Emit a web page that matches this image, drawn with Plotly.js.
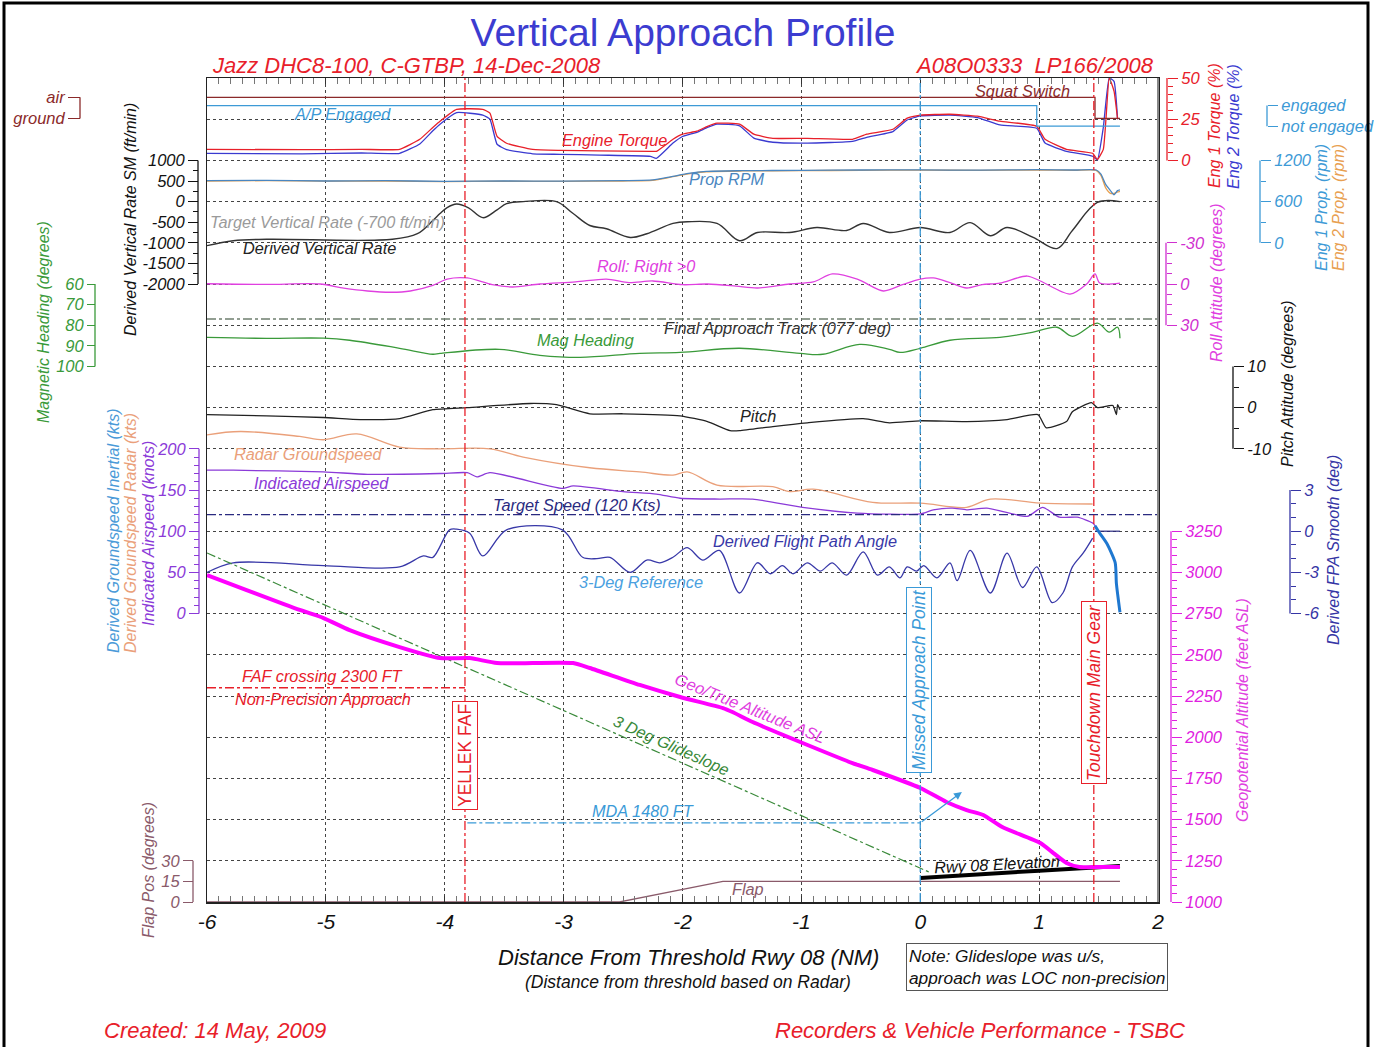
<!DOCTYPE html>
<html><head><meta charset="utf-8">
<script src="https://cdn.plot.ly/plotly-3.0.1.min.js"></script>
<style>html,body{margin:0;padding:0;background:#fff}#chart{width:1374px;height:1047px}</style>
</head><body><div id="chart"></div>
<script>
// ---------------- DATA ----------------
const torqueX = [-6.0,-5.2,-4.7,-4.38,-4.21,-4.10,-4.04,-3.90,-3.68,-3.62,-3.56,-3.48,-3.26,-3.03,-2.7,-2.27,-2.22,-2.08,-2.00,-1.88,-1.79,-1.71,-1.52,-1.40,-1.24,-0.95,-0.57,-0.45,-0.23,-0.11,0.0,0.25,0.48,0.67,0.98,1.05,1.23,1.45,1.49,1.54,1.59,1.63,1.66];
const eng1Torque = [6.7,6.5,6.7,6.7,12.8,20,23.8,31,31,28.7,14.6,10.4,6.7,6.1,5.8,5.5,5.5,12.8,15.9,17.7,20.7,22.6,22,15.9,13.4,13.4,12.8,15.9,18.9,25.6,27.5,28,26.8,23.8,20.7,12.8,6.7,4.3,0.6,6.7,50,42,25];
const eng2Torque = [4.3,4.0,4.5,4.3,10,18,22,29,27.5,25,9.8,6.5,4.0,3.7,3.2,2.5,1.2,10.5,14.5,17,20,22,21,13.5,11,10.5,11.5,14,17.5,24.5,27,27.5,26,21.5,19.5,10.5,5.5,2.5,0.2,20,50,48,25];

const squatX = [-6.0,1.47,1.47,1.68];
const squatVal = [1,1,0,0];           // 1 = air, 0 = ground
const apX = [-6.0,0.98,0.98,1.68];
const apVal = [1,1,0,0];              // 1 = engaged, 0 = not engaged

const rpmX = [-6.0,-5.5,-5.0,-4.5,-4.0,-3.5,-3.0,-2.5,-2.25,-2.1,-1.95,-1.8,-1.5,-1.0,-0.5,0.0,0.5,1.0,1.3,1.48,1.52,1.56,1.60,1.63,1.66,1.68];
const eng1Rpm = [905,910,900,905,895,900,898,905,915,960,1010,1040,1050,1055,1060,1062,1058,1065,1060,1060,1000,850,760,700,760,770];
const eng2Rpm = [900,905,898,900,892,896,895,900,910,955,1005,1035,1046,1050,1056,1058,1055,1060,1056,1055,980,800,720,720,740,750];

const vrX = [-6.0,-5.78,-5.5,-4.44,-4.23,-4.10,-4.04,-3.98,-3.90,-3.80,-3.68,-3.56,-3.48,-3.34,-3.06,-2.92,-2.78,-2.64,-2.44,-2.30,-2.08,-1.96,-1.71,-1.52,-1.37,-1.10,-0.87,-0.62,-0.48,-0.26,0.0,0.25,0.42,0.59,0.73,0.95,1.15,1.28,1.49,1.68];
const vertRate = [-1070,-950,-915,-915,-780,-460,-290,-145,-60,-150,-390,-200,-50,0,0,-290,-580,-660,-870,-780,-530,-490,-530,-950,-750,-750,-630,-700,-530,-750,-630,-750,-510,-830,-630,-870,-1140,-700,-20,0];

const rollX = [-6.0,-5.5,-5.05,-4.85,-4.65,-4.45,-4.29,-4.1,-3.98,-3.81,-3.6,-3.43,-3.20,-2.9,-2.64,-2.45,-2.25,-2.0,-1.79,-1.55,-1.37,-1.10,-0.90,-0.74,-0.53,-0.31,-0.15,0.0,0.11,0.25,0.39,0.52,0.67,0.90,1.01,1.26,1.40,1.47,1.51,1.68];
const roll = [-0.2,0.3,0,3,5.1,6,5.1,1,-3.6,-4.4,0.5,2.2,0,-1.5,-3.6,-1,-2.2,0.5,0,1.5,2.9,0,-1.5,-7.3,-3.6,5.1,0.5,-3.6,-4.4,-1,2.9,0.5,-0.7,-5.8,-2.2,7.3,0,-7.3,-0.7,-0.7];

const fatX = [-6, 2];
const fatHdg = [77, 77];
const hdgX = [-6.0,-5.5,-5.02,-4.80,-4.38,-4.10,-4.04,-3.54,-3.20,-2.86,-2.36,-2.02,-1.52,-1.01,-0.82,-0.51,-0.26,-0.17,0.0,0.25,0.67,0.95,1.15,1.28,1.49,1.59,1.66,1.68];
const heading = [85.9,86.4,86.3,87.3,91.2,94.1,93.7,91.7,94.6,95.6,93.7,93.2,91.2,93.7,94.1,89.3,91.7,93.2,91.2,87.3,85.9,83.4,81.0,85.4,79.0,83.4,81.0,86.3];

const pitchX = [-6.0,-5.5,-5.02,-4.71,-4.38,-4.10,-3.81,-3.28,-3.06,-2.78,-2.50,-2.02,-1.79,-1.60,-1.52,-1.24,-0.95,-0.48,-0.26,0.0,0.39,0.73,0.99,1.06,1.23,1.28,1.44,1.49,1.62,1.65,1.66,1.68];
const pitch = [-1.7,-2.0,-2.4,-2.9,-2.7,-0.5,0,1.0,0.7,-1.5,-1.5,-2.0,-3.4,-5.6,-5.6,-4.6,-3.7,-2.7,-3.7,-3.2,-3.4,-2.9,-1.7,-4.9,-3.4,-1.0,1.2,0,0.5,-1.7,0.7,-0.5];

const gsX = [-6.0,-5.72,-5.22,-5.02,-4.74,-4.38,-4.04,-3.62,-3.34,-2.78,-2.36,-2.08,-1.96,-1.71,-1.24,-1.10,-0.90,-0.40,0.0,0.39,0.59,1.01,1.45];
const radarGs = [217,221,215,211,218,202,200,200,190,177,172,168,172,156,154,148,151,135,134,129,139,134,133];
const iasX = [-6.0,-5.78,-5.02,-4.65,-4.04,-3.81,-3.73,-3.62,-3.01,-2.92,-2.50,-2.22,-2.02,-1.69,-1.41,-0.99,-0.53,0.0,0.11,0.27,0.39,0.56,0.90,1.03,1.17,1.32,1.45,1.48];
const ias = [174,174,172,169,170,171,166,171,152,155,148,145,140,139,139,129,122,121,126,128,126,128,118,129,117,117,110,105];
const tgtSpdX = [-6, 2];
const tgtSpd = [120, 120];

const fpaX = [-6.0,-5.78,-5.02,-4.38,-4.18,-4.10,-3.96,-3.90,-3.79,-3.68,-3.48,-3.01,-2.84,-2.72,-2.61,-2.44,-2.30,-2.19,-2.08,-1.96,-1.83,-1.69,-1.52,-1.37,-1.26,-1.16,-1.07,-0.95,-0.84,-0.74,-0.62,-0.48,-0.36,-0.26,-0.17,-0.11,-0.03,0.03,0.14,0.25,0.31,0.42,0.59,0.73,0.86,0.98,1.11,1.20,1.28,1.37,1.45];
const derivedFpa = [-3.0,-2.3,-2.5,-2.6,-1.8,-1.9,0.1,0.15,-0.15,-1.8,0.1,0.1,-1.9,-2.0,-1.9,-3.0,-2.1,-2.3,-1.9,-1.2,-2.1,-1.4,-4.5,-2.3,-3.1,-2.5,-3.1,-2.3,-2.9,-2.3,-3.2,-1.5,-3.2,-2.6,-3.4,-2.6,-2.9,-2.5,-3.4,-2.3,-3.6,-1.4,-4.5,-1.6,-4.1,-2.6,-5.2,-4.5,-2.6,-1.6,-0.5];
const fpaSmoothX = [1.47,1.51,1.57,1.64,1.65,1.68];
const fpaSmooth = [0.4,-0.15,-0.9,-2.3,-3.8,-5.9];
const fpaZeroX = [1.47, 1.68];
const fpaZero = [0, 0];

const altX = [-6.0,-5.22,-5.02,-4.80,-4.38,-4.04,-3.79,-3.56,-2.92,-2.78,-2.36,-2.02,-1.66,-1.58,-1.41,-1.01,-0.57,-0.40,0.0,0.22,0.39,0.53,0.69,1.01,1.12,1.23,1.34,1.45,1.68];
const geoAlt = [2984,2772,2723,2650,2547,2480,2480,2450,2450,2420,2317,2244,2177,2153,2092,1971,1843,1801,1692,1607,1558,1528,1455,1358,1297,1237,1212,1212,1212];
const rwyX = [0, 0.5, 1.0, 1.68];
const rwyElev = [1146, 1170, 1190, 1218];
const gsRefX = [-6, 0.08];
const gsRefAlt = [3118, 1180];
const fafLineX = [-6, -3.83];
const fafLineAlt = [2300, 2300];
const mdaX = [-3.81, 0];
const mdaAlt = [1480, 1480];

const flapX = [-6.0,-2.53,-1.66,1.68];
const flap = [0,0,15,15];

const events = {faf: -3.83, map: 0.0, td: 1.46};
const xTicks = [-6,-5,-4,-3,-2,-1,0,1,2];

// ---------------- LAYOUT HELPERS ----------------
const W = 1374, H = 1047, L = 207, R = 1158, T = 78, B = 902;
const FONT = 'Liberation Sans, Arial, sans-serif';
const px = v => v / W;
const py = v => (B - v) / (B - T);
function rng(v1, g1, v2, g2) { const s = (v2 - v1) / (g2 - g1); const lo = v1 - s * g1; return [lo, lo + 20 * s]; }
function steps(a, b, d) { const o = []; for (let v = a; v <= b + 1e-9; v += d) o.push(+v.toFixed(4)); return o; }

const C = {
  red: '#e8202a', dred: '#8b2a2a', ap: '#3d9ad6', rpm: '#4a86c0', org: '#e8a050',
  mag: '#e040e0', grn: '#3a9a3a', tan: '#eaa07a', pur: '#8b3ad8', navy: '#2a2a80',
  fpa: '#3838a8', blue: '#3a9ad8', flap: '#8a5a6a', eng2: '#3a3ad0'
};

const axDefs = {
  yaxis2:  {pos:1167, side:'right', range:rng(0,18,50,20), color:C.red, tv:[0,25,50], minor:steps(0,50,5), span:[0,50]},
  yaxis3:  {pos:80, side:'left', range:rng(0,19.02,1,19.53), color:C.dred, tv:[0,1], tt:['ground','air'], span:[0,1], len:12},
  yaxis4:  {pos:1267, side:'right', range:rng(0,18.83,1,19.33), color:C.ap, tv:[0,1], tt:['not engaged','engaged'], span:[0,1], len:10},
  yaxis5:  {pos:1260, side:'right', range:rng(0,16,1200,18), color:C.ap, tv:[0,600,1200], minor:[300,900], span:[0,1200]},
  yaxis6:  {pos:198, side:'left', range:rng(0,17,1000,18), color:'#111', tv:[-2000,-1500,-1000,-500,0,500,1000], minor:steps(-2000,1000,250), span:[-2000,1000]},
  yaxis7:  {pos:1166, side:'right', range:rng(0,15,30,14), color:'#d030d0', tv:[-30,0,30], minor:steps(-30,30,7.5), span:[-30,30]},
  yaxis8:  {pos:95, side:'left', range:rng(60,15,100,13), color:C.grn, tv:[60,70,80,90,100], span:[60,100], len:8},
  yaxis9:  {pos:1233, side:'right', range:rng(0,12,10,13), color:'#111', tv:[-10,0,10], minor:[-5,5], span:[-10,10]},
  yaxis10: {pos:199, side:'left', range:rng(0,7,200,11), color:'#8b3ad8', tv:[0,50,100,150,200], minor:steps(0,200,10), span:[0,200]},
  yaxis11: {pos:1290, side:'right', range:rng(0,9,3,10), color:'#3535a5', tv:[-6,-3,0,3], minor:steps(-6,3,1), span:[-6,3]},
  yaxis12: {pos:1171, side:'right', range:rng(1000,0,1250,1), color:'#e020e0', tv:steps(1000,3250,250), minor:steps(1000,3250,50), span:[1000,3250]},
  yaxis13: {pos:193, side:'left', range:rng(0,0,30,1), color:C.flap, tv:[0,15,30], span:[0,30]}
};

const layout = {
  width: W, height: H, margin: {l:0, r:0, t:T, b:H-B, pad:0},
  paper_bgcolor:'#fff', plot_bgcolor:'#fff', showlegend:false,
  font: {family: FONT, size: 16, color:'#111'},
  title: {text:'Vertical Approach Profile', font:{family:FONT, size:39, color:'#3c3cd0'},
          x: 683/W, xanchor:'center', xref:'container', y: 1 - 32/H, yanchor:'middle', yref:'container'},
  xaxis: {domain:[L/W, R/W], range:[-6,2], tickmode:'array', tickvals:xTicks, ticktext:xTicks.map(String),
          ticks:'inside', ticklen:6,
          tickcolor:'#333', showgrid:true, gridcolor:'#444', griddash:'dot', gridwidth:1, zeroline:false,
          showline:true, linecolor:'#222', linewidth:1.5, mirror:'allticks',
          minor:{dtick:0.1, ticks:'inside', ticklen:4, tickcolor:'#777'},
          tickfont:{family:FONT, size:21, color:'#111', style:'italic'}, fixedrange:true},
  yaxis: {domain:[0,1], range:[0,20], tickmode:'linear', tick0:0, dtick:1, showticklabels:false, ticks:'',
          showgrid:true, gridcolor:'#444', griddash:'dot', gridwidth:1, zeroline:false,
          showline:true, linecolor:'#222', linewidth:1.5, mirror:true, fixedrange:true},
  shapes: [], annotations: []
};

for (const k in axDefs) {
  const d = axDefs[k];
  const ax = {overlaying:'y', anchor:'free', position:px(d.pos), side:d.side, range:d.range,
    showgrid:false, zeroline:false, showline:false, tickmode:'array', tickvals:d.tv,
    ticktext: d.tt || d.tv.map(String),
    ticks:'outside', ticklen:d.len || 10, tickwidth:1, tickcolor:d.color, fixedrange:true,
    tickfont:{family:FONT, size:16.5, color:d.color, style:'italic'}};
  if (d.minor) ax.minor = {tickmode:'array', tickvals:d.minor, ticks:'outside', ticklen:5, tickcolor:d.color, tickwidth:1};
  layout[k] = ax;
  layout.shapes.push({type:'line', xref:'paper', yref:k.replace('axis',''), x0:px(d.pos), x1:px(d.pos),
    y0:d.span[0], y1:d.span[1], line:{color:d.color, width:1.3}});
}

// event lines
[[events.faf, C.red], [events.map, C.blue], [events.td, C.red]].forEach(([x, c]) => {
  layout.shapes.push({type:'line', xref:'x', yref:'paper', x0:x, x1:x, y0:0, y1:1, line:{color:c, width:1.3, dash:'dashdot'}});
});
// right frame in grey (as in original), page frame
layout.shapes.push({type:'line', xref:'paper', yref:'paper', x0:R/W, x1:R/W, y0:0, y1:1, line:{color:'#888', width:2}});
layout.shapes.push({type:'rect', xref:'paper', yref:'paper', x0:px(4), x1:px(1368), y0:py(1060), y1:py(3), line:{color:'#000', width:3}});

// ---------------- TRACES ----------------
function ln(x, y, ax, color, width, dash, sm) {
  const t = {type:'scatter', mode:'lines', x:x, y:y, yaxis:ax, hoverinfo:'skip',
          line:{color:color, width:width || 1.3, dash:dash || 'solid', shape: sm ? 'spline' : 'linear'}};
  if (sm) t.line.smoothing = sm;
  return t;
}
const data = [
  // anchor trace so the main grid subplot (x, y) exists
  {type:'scatter', mode:'markers', x:[-6], y:[0], yaxis:'y', marker:{opacity:0, size:1}, hoverinfo:'skip'},
  ln(gsRefX, gsRefAlt, 'y12', '#3a8a3a', 1.2, 'dashdot'),
  ln(fafLineX, fafLineAlt, 'y12', C.red, 1.3, 'dashdot'),
  ln(mdaX, mdaAlt, 'y12', C.blue, 1.3, 'dashdot'),
  ln(flapX, flap, 'y13', C.flap, 1.3),
  ln(rwyX, rwyElev, 'y12', '#000', 4),
  ln(altX, geoAlt, 'y12', '#ff00ff', 4, null, 0.6),
  ln(squatX, squatVal, 'y3', C.dred, 1.3),
  ln(apX, apVal, 'y4', C.ap, 1.3),
  ln(torqueX, eng2Torque, 'y2', C.eng2, 1.3, null, 0.4),
  ln(torqueX, eng1Torque, 'y2', C.red, 1.3, null, 0.4),
  ln(rpmX, eng2Rpm, 'y5', C.org, 1.3, null, 0.6),
  ln(rpmX, eng1Rpm, 'y5', C.rpm, 1.3, null, 0.6),
  ln(vrX, vertRate, 'y6', '#333', 1.4, null, 1.0),
  ln(rollX, roll, 'y7', C.mag, 1.3, null, 0.8),
  ln(fatX, fatHdg, 'y8', '#6f7f6f', 1.3, 'dashdot'),
  ln(hdgX, heading, 'y8', C.grn, 1.3, null, 1.0),
  ln(pitchX, pitch, 'y9', '#222', 1.3, null, 0.5),
  ln(gsX, radarGs, 'y10', C.tan, 1.3, null, 1.0),
  ln(iasX, ias, 'y10', C.pur, 1.3, null, 0.6),
  ln(tgtSpdX, tgtSpd, 'y10', C.navy, 1.3, 'dashdot'),
  ln(fpaX, derivedFpa, 'y11', C.fpa, 1.3, null, 0.9),
  ln(fpaZeroX, fpaZero, 'y11', C.navy, 1.2),
  ln(fpaSmoothX, fpaSmooth, 'y11', '#1f78d0', 3, null, 0.6)
];

// ---------------- TEXT ----------------
function note(t, x, y, c, o) {
  o = o || {};
  layout.annotations.push(Object.assign({text:t, xref:'paper', yref:'paper', x:px(x), y:py(y),
    xanchor:o.xa || 'center', yanchor:'middle', showarrow:false, textangle:o.a || 0,
    font:{family:FONT, size:o.s || 16.3, color:c, style:o.st || 'italic'}}, o.extra || {}));
}
note('Jazz DHC8-100, C-GTBP, 14-Dec-2008', 210, 65, C.red, {xa:'left', s:22});
note('A08O0333&nbsp; LP166/2008', 1156, 65, C.red, {xa:'right', s:22});
note('Created: 14 May, 2009', 102, 1030, C.red, {xa:'left', s:22});
note('Recorders &amp; Vehicle Performance - TSBC', 980, 1030, C.red, {s:22});
note('Distance From Threshold Rwy 08 (NM)', 688, 957, '#111', {s:22});
note('(Distance from threshold based on Radar)', 688, 982, '#111', {s:17.5});
note('Note: Glideslope was u/s,<br>approach was LOC non-precision', 1037, 967, '#111',
     {s:17.3, extra:{align:'left', bordercolor:'#555', borderwidth:1, borderpad:2, bgcolor:'#fff'}});

// in-plot labels
note('A/P Engaged', 342, 114, C.ap);
note('Squat Switch', 1022, 91, C.dred);
note('Engine Torque', 614, 140, C.red);
note('Prop RPM', 727, 179, C.rpm);
note('Target Vertical Rate (-700 ft/min)', 327, 222, '#9a9a9a');
note('Derived Vertical Rate', 319, 248, '#222');
note('Roll: Right &gt;0', 646, 266, C.mag);
note('Final Approach Track (077 deg)', 777, 328, '#333');
note('Mag Heading', 585, 340, C.grn);
note('Pitch', 758, 416, '#222');
note('Radar Groundspeed', 308, 454, C.tan);
note('Indicated Airspeed', 321, 483, C.pur);
note('Target Speed (120 Kts)', 577, 505, C.navy);
note('Derived Flight Path Angle', 805, 541, C.fpa);
note('3-Deg Reference', 641, 582, '#4aa0e0');
note('FAF crossing 2300 FT', 322, 676, C.red);
note('Non-Precision Approach', 323, 699, C.red);
note('Geo/True Altitude ASL', 750, 708, C.mag, {a:22});
note('3 Deg Glideslope', 671, 745, '#3a8a3a', {a:24});
note('MDA 1480 FT', 643, 811, C.blue);
note('Rwy 08 Elevation', 997, 864, '#111', {a:-3});
note('Flap', 748, 889, C.flap);

// event label boxes
note('YELLEK FAF', 465, 756, C.red, {a:-90, s:17.5, st:'normal', extra:{bordercolor:C.red, borderwidth:1, borderpad:2, bgcolor:'#fff'}});
note('Missed Approach Point', 919, 680, C.blue, {a:-90, s:17.5, extra:{bordercolor:C.blue, borderwidth:1, borderpad:2, bgcolor:'#fff'}});
note('Touchdown Main Gear', 1094, 693, C.red, {a:-90, s:17.5, extra:{bordercolor:C.red, borderwidth:1, borderpad:2, bgcolor:'#fff'}});

// axis titles
note('Derived Vertical Rate SM (ft/min)', 130, 220, '#111', {a:-90, s:16});
note('Magnetic Heading (degrees)', 43, 322, C.grn, {a:-90, s:16});
note('Derived Groundspeed Inertial (kts)', 113, 531, '#4a9ad8', {a:-90, s:16});
note('Derived Groundspeed Radar (kts)', 130, 533, C.tan, {a:-90, s:16});
note('Indicated Airspeed (knots)', 148, 534, C.pur, {a:-90, s:16});
note('Flap Pos (degrees)', 148, 870, C.flap, {a:-90, s:16});
note('Eng 1 Torque (%)', 1215, 126, C.red, {a:-90, s:16});
note('Eng 2 Torque (%)', 1233, 127, C.eng2, {a:-90, s:16});
note('Eng 1 Prop. (rpm)', 1321, 208, C.ap, {a:-90, s:16});
note('Eng 2 Prop. (rpm)', 1338, 208, C.org, {a:-90, s:16});
note('Roll Attitude (degrees)', 1217, 283, C.mag, {a:-90, s:16});
note('Pitch Attitude (degrees)', 1288, 384, '#111', {a:-90, s:16});
note('Derived FPA Smooth (deg)', 1333, 550, '#3535a5', {a:-90, s:16});
note('Geopotential Altitude (feet ASL)', 1242, 710, C.mag, {a:-90, s:16});

// MDA arrow
layout.annotations.push({text:'', xref:'x', yref:'y12', x:0.35, y:1667, axref:'x', ayref:'y12', ax:0, ay:1480,
  showarrow:true, arrowhead:2, arrowsize:1.2, arrowwidth:1.3, arrowcolor:C.blue, standoff:0});

Plotly.newPlot('chart', data, layout, {staticPlot:true, displayModeBar:false});
</script></body></html>
